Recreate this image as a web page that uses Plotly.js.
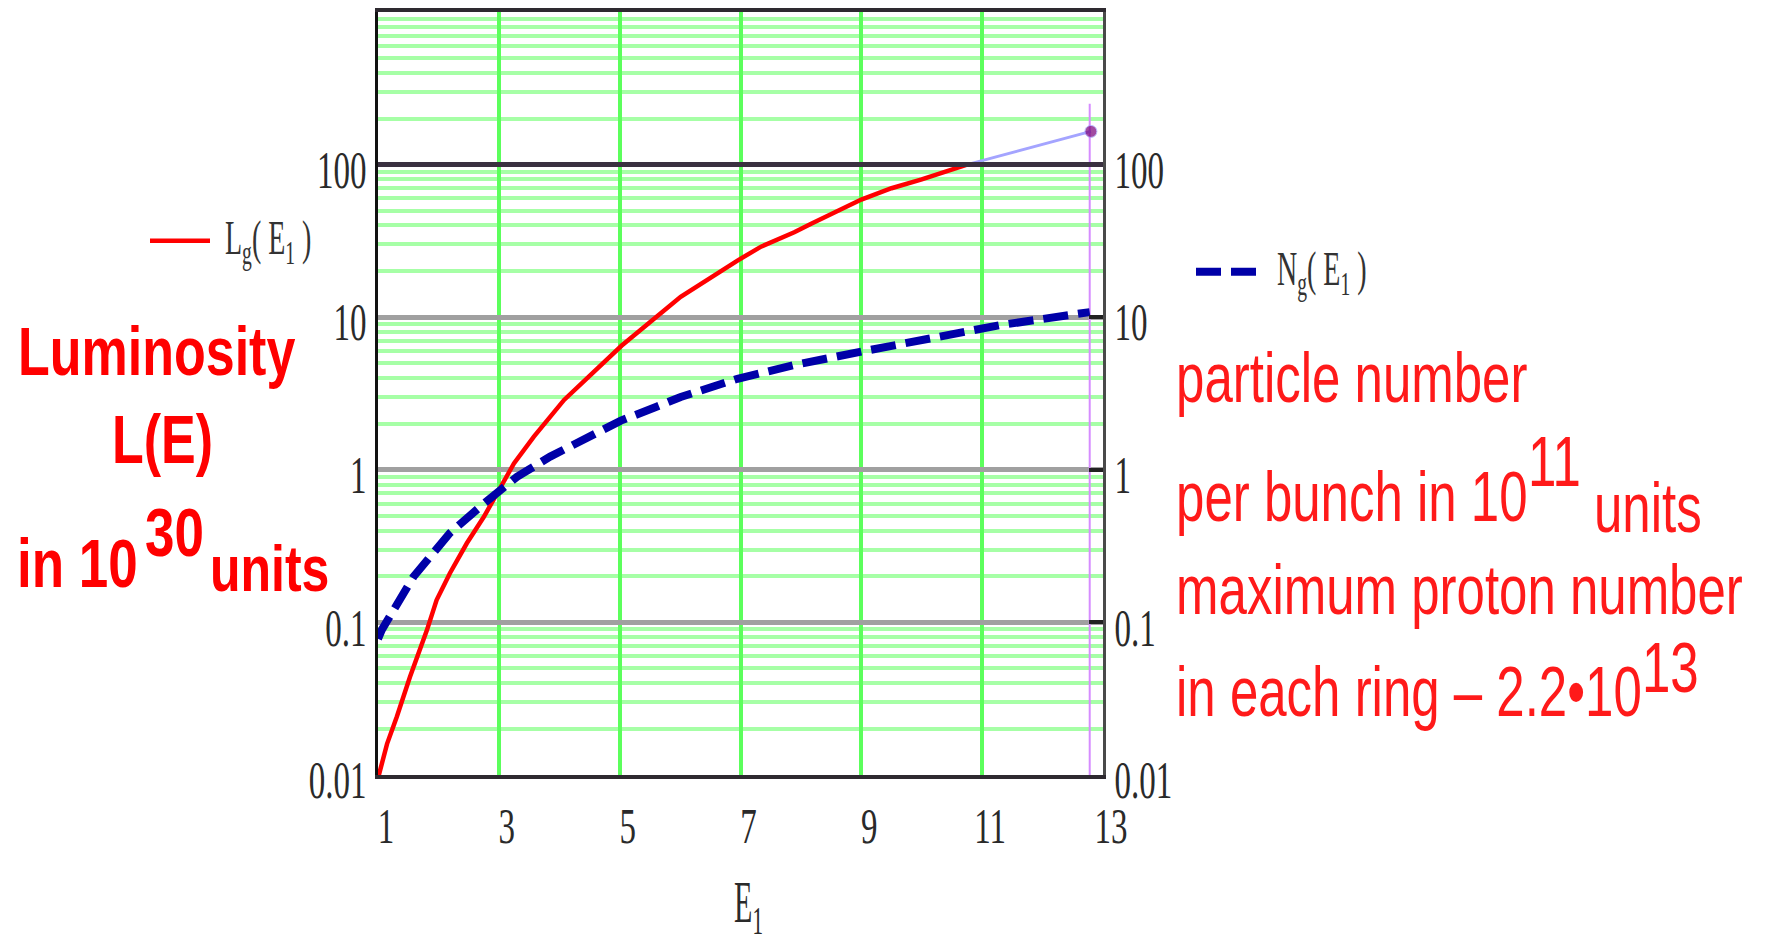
<!DOCTYPE html>
<html>
<head>
<meta charset="utf-8">
<script src="https://cdn.plot.ly/plotly-3.0.1.min.js"></script>
<style>
  html, body { margin: 0; padding: 0; background: #ffffff; }
  #chart { width: 1777px; height: 943px; }
</style>
</head>
<body>
<div id="chart"></div>
<script>
// ---------------- data ----------------
const E_L = [1.0, 1.15, 1.31, 1.53, 1.81, 1.97, 2.19, 2.47, 2.75, 3.02, 3.25, 3.58, 4.08, 5.03, 6.01, 6.95, 7.34, 7.89, 8.17, 9.0, 9.5, 10.0, 10.4, 10.75];
const L_vals = [0.0095, 0.016, 0.024, 0.044, 0.089, 0.14, 0.21, 0.33, 0.49, 0.77, 1.10, 1.65, 2.87, 6.5, 13.6, 23.5, 29, 36, 41, 59, 70, 80, 90, 100];

const E_N = [1.0, 1.06, 1.59, 2.19, 2.75, 3.30, 3.85, 4.46, 5.02, 5.62, 6.01, 6.95, 7.89, 9.02, 10.15, 11.28, 12.78];
const N_vals = [0.078, 0.089, 0.20, 0.385, 0.60, 0.90, 1.22, 1.61, 2.1, 2.6, 3.0, 3.95, 4.86, 5.97, 7.34, 8.85, 10.8];

const E_Lext = [10.75, 12.8];
const Lext_vals = [100, 165];

const E_marker = [12.78, 12.78];
const marker_vals = [0.01, 250];

const xTickVals = [1, 3, 5, 7, 9, 11, 13];
const xTickText = ["1", "3", "5", "7", "9", "11", "13"];
const yTickVals = [0.01, 0.1, 1, 10, 100];
const yTickText = ["0.01", "0.1", "1", "10", "100"];
const yDecades = [0.01, 0.1, 1, 10, 100];
const yMinorSteps = [2, 3, 4, 5, 6, 7, 8, 9];
const yMinorVals = yDecades.flatMap(d => yMinorSteps.map(k => k * d));
const yMarkLevel = 100;   // dark horizontal marker line

// ---------------- geometry helpers (page pixels -> paper) ----------------
const PL = 378, PR = 1103, PT = 12, PB = 775;
const px = x => (x - PL) / (PR - PL);
const py = y => (PB - y) / (PB - PT);

const serif = "Liberation Serif, Times New Roman, serif";
const sans = "Liberation Sans, Arial, sans-serif";
const tickFont = {family: serif, size: 33, color: "#2a2a2a"};

// ---------------- traces ----------------
const traces = [
  {x: E_marker, y: marker_vals, mode: "lines", line: {color: "#d68cff", width: 2},
   showlegend: false, hoverinfo: "skip"},
  {x: E_Lext, y: Lext_vals, mode: "lines+markers", line: {color: "#a4a4ff", width: 3},
   marker: {color: "#7a007a", size: [0, 12], symbol: "circle"}, showlegend: false, hoverinfo: "skip"},
  {x: E_L, y: L_vals, mode: "lines", name: "L<sub>g</sub>( E<sub>1</sub> )",
   line: {color: "#ff0000", width: 4.5}, legend: "legend"},
  {x: E_N, y: N_vals, mode: "lines", name: "N<sub>g</sub>( E<sub>1</sub> )", yaxis: "y2",
   line: {color: "#0000a8", width: 8, dash: "25px,10px"}, legend: "legend2"}
];

// ---------------- annotations (text with vertical stretch factor) ----------------
const boldRed = {family: sans, size: 52, color: "#ff0000", weight: "bold"};
const thinRed = {family: sans, size: 51, color: "#ff1a1a"};
function ann(text, x, baseline, anchor, font, s) {
  const cy = baseline - 0.35 * s * font.size;
  return {spec: {text: text, x: px(x), y: py(cy), xref: "paper", yref: "paper",
                 xanchor: anchor, yanchor: "middle", showarrow: false, font: font}, s: s};
}
const annList = [
  ann("<b>Luminosity</b>", 156, 376, "center", boldRed, 1.3),
  ann("<b>L(E)</b>", 162, 464, "center", boldRed, 1.3),
  ann("<b>in 10</b>", 15, 587, "left", Object.assign({}, boldRed, {size: 53}), 1.3),
  ann("<b>30</b>", 143, 556, "left", Object.assign({}, boldRed, {size: 53}), 1.3),
  ann("<b>units</b>", 208, 592, "left", Object.assign({}, boldRed, {size: 50}), 1.3),
  ann("particle number", 1174, 403, "left", thinRed, 1.37),
  ann("per bunch in 10", 1174, 522, "left", thinRed, 1.37),
  ann("11", 1526, 487, "left", thinRed, 1.37),
  ann("units", 1592, 533, "left", thinRed, 1.37),
  ann("maximum proton number", 1174, 615, "left", thinRed, 1.37),
  ann("in each ring \u2013 2.2\u202210", 1174, 717, "left", thinRed, 1.37),
  ann("13", 1640, 693, "left", thinRed, 1.37)
];

const legendFont = {family: serif, size: 28, color: "#333333"};
const layout = {
  width: 1777, height: 943,
  margin: {l: PL, r: 1777 - PR, t: PT, b: 943 - PB, pad: 0},
  paper_bgcolor: "#ffffff", plot_bgcolor: "#ffffff",
  showlegend: true,
  xaxis: {
    range: [1, 13], tickvals: xTickVals, ticktext: xTickText,
    showgrid: true, gridcolor: "#5cff5c", gridwidth: 4,
    showline: true, linecolor: "#2e2a30", linewidth: 4, mirror: true,
    ticks: "", zeroline: false, tickfont: tickFont,
    ticklabelstandoff: 18, ticklabelshift: 8,
    title: {text: "E<sub>1</sub>", font: {family: serif, size: 30, color: "#2a2a2a"}, standoff: 34},
    automargin: false
  },
  yaxis: {
    type: "log", range: [-2, 3], tickvals: yTickVals, ticktext: yTickText,
    showgrid: true, gridcolor: "#a0a0a0", gridwidth: 5,
    minor: {tickvals: yMinorVals, showgrid: true, gridcolor: "#a6ffa6", gridwidth: 4, ticks: ""},
    showline: true, linecolor: "#111111", linewidth: 3,
    ticks: "", zeroline: false, tickfont: tickFont,
    ticklabelstandoff: 2, automargin: false
  },
  yaxis2: {
    type: "log", range: [-2, 3], tickvals: yTickVals, ticktext: yTickText,
    overlaying: "y", side: "right", anchor: "x",
    showgrid: false, showline: true, linecolor: "#4a4a4a", linewidth: 3,
    ticks: "inside", ticklen: 14, tickwidth: 4, tickcolor: "#222222",
    zeroline: false, tickfont: tickFont,
    ticklabelstandoff: 4, automargin: false
  },
  legend: {x: px(185), y: py(241), xanchor: "left", yanchor: "middle",
           bgcolor: "rgba(0,0,0,0)", borderwidth: 0, font: legendFont},
  legend2: {x: px(1237), y: py(272), xanchor: "left", yanchor: "middle",
            bgcolor: "rgba(0,0,0,0)", borderwidth: 0, font: legendFont},
  shapes: [
    {type: "line", xref: "paper", yref: "y", x0: 0, x1: 1,
     y0: yMarkLevel, y1: yMarkLevel,
     line: {color: "#3a3040", width: 5}, layer: "above"}
  ],
  annotations: annList.map(a => a.spec)
};

// vertical stretch of text (the reference text is tall and narrow), with optional offset
function stretch(el, s, dx, dy) {
  dx = dx || 0; dy = dy || 0;
  const applied = el.getAttribute("data-applied-tf");
  let orig;
  if (applied !== null && el.getAttribute("transform") === applied) {
    orig = el.getAttribute("data-orig-tf") || "";
  } else {
    orig = el.getAttribute("transform") || "";
  }
  if (orig) el.setAttribute("transform", orig); else el.removeAttribute("transform");
  const b = el.getBBox();
  const cx = b.x + b.width / 2, cy = b.y + b.height / 2;
  const tf = (orig ? orig + " " : "") + "translate(" + (cx + dx) + "," + (cy + dy) + ") scale(1," + s + ") translate(" + (-cx) + "," + (-cy) + ")";
  el.setAttribute("data-orig-tf", orig);
  el.setAttribute("data-applied-tf", tf);
  el.setAttribute("transform", tf);
}

function decorate() {
  const gd = document.getElementById("chart");
  gd.querySelectorAll("g.xtick text").forEach(t => stretch(t, 1.55, 0, 0));
  gd.querySelectorAll("g.ytick text").forEach(t => stretch(t, 1.6, 0, 5));
  gd.querySelectorAll("g.y2tick text").forEach(t => stretch(t, 1.6, -2, 5));
  gd.querySelectorAll("text.xtitle").forEach(t => stretch(t, 1.95, 8, 18));
  // every text that sits inside a legend group
  Array.from(gd.querySelectorAll("text"))
    .filter(t => t.closest("[class*='legend']"))
    .forEach(t => stretch(t, 1.7, 0, -3));
  gd.querySelectorAll("g.annotation").forEach(g => {
    const i = +g.getAttribute("data-index");
    const t = g.querySelector("text.annotation-text");
    if (t && annList[i]) stretch(t, annList[i].s, 0, 0);
  });
  // longer legend samples, like the reference (and no clipping of the legend box)
  gd.querySelectorAll("g.legend [clip-path], g.legend2 [clip-path]").forEach(e => e.removeAttribute("clip-path"));
  gd.querySelectorAll("g.legend path.js-line").forEach(p => p.setAttribute("d", "M-35,0h60"));
  gd.querySelectorAll("g.legend2 path.js-line").forEach(p => p.setAttribute("d", "M-41,0h60"));
}

const gdiv = document.getElementById("chart");
Plotly.newPlot(gdiv, traces, layout, {displayModeBar: false, staticPlot: true}).then(() => {
  decorate();
  gdiv.on("plotly_afterplot", decorate);
  requestAnimationFrame(decorate);
  setTimeout(decorate, 50);
  setTimeout(decorate, 300);
});
</script>
</body>
</html>
